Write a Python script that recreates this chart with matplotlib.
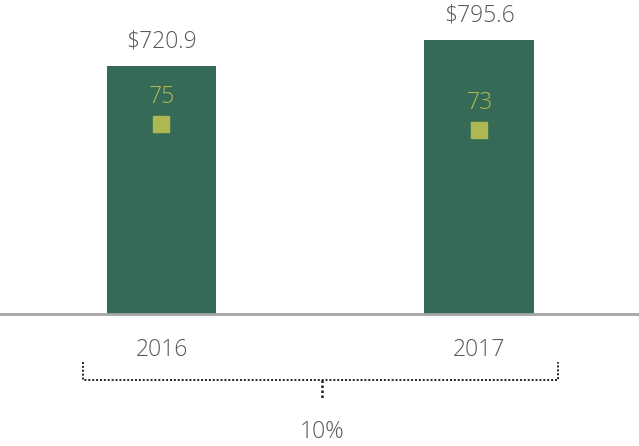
# Receita e indicador por ano

import matplotlib.pyplot as plt

anos = ["2016", "2017"]
receita = [720.9, 795.6]
indice = [75, 73]
rotulos = ["$720.9", "$795.6"]
variacao = "10%"

verde = "#356b56"
oliva = "#adb853"
cinza = "#595959"

plt.rcParams['font.family'] = ['Open Sans', 'DejaVu Sans']

fig = plt.figure(figsize=(6.39, 4.46), dpi=100)
ax = fig.add_axes([0, 132 / 446, 1, 294 / 446])
ax2 = ax.twinx()

x = list(range(len(anos)))
ax.bar(x, receita, width=0.346, color=verde, zorder=2)
ax.set_xlim(-0.508, 1.502)
ax.set_ylim(0, 853.7)
ax2.set_ylim(11.67, 109.67)

ax2.plot(x, indice, linestyle="none", marker="s", markersize=11,
         color=oliva, zorder=3)

for i in x:
    ax.annotate(rotulos[i], (i, receita[i]), xytext=(0, 9), textcoords="offset points",
                ha="center", va="bottom", fontsize=16.5, color=cinza, fontweight="light")
    ax2.annotate(str(indice[i]), (i, indice[i]), xytext=(0, 11), textcoords="offset points",
                 ha="center", va="bottom", fontsize=16.5, color=oliva, fontweight="light")
    ax.text(i, -0.122, anos[i], transform=ax.get_xaxis_transform(), ha="center",
            va="center", fontsize=16.5, color=cinza, fontweight="light")

# chave pontilhada
tr = ax.get_xaxis_transform()
ax.plot([-0.247, -0.247, 1.247, 1.247], [-0.163, -0.224, -0.224, -0.163],
        transform=tr, clip_on=False, color="#222222", linestyle=(0, (1, 1)), linewidth=1.4)
ax.plot([0.505, 0.505], [-0.224, -0.293], transform=tr, clip_on=False,
        color="#222222", linestyle=(0, (1, 1)), linewidth=1.8)
ax.text(0.505, -0.401, variacao, transform=tr, ha="center", va="center",
        fontsize=16.5, color=cinza, fontweight="light")

for a in (ax, ax2):
    for lado in ["top", "left", "right"]:
        a.spines[lado].set_visible(False)
    a.set_yticks([])
ax2.spines["bottom"].set_visible(False)
ax.spines["bottom"].set_color("#a6a6a6")
ax.spines["bottom"].set_linewidth(2)
ax.set_xticks([])

plt.savefig("out.png", dpi=100)
